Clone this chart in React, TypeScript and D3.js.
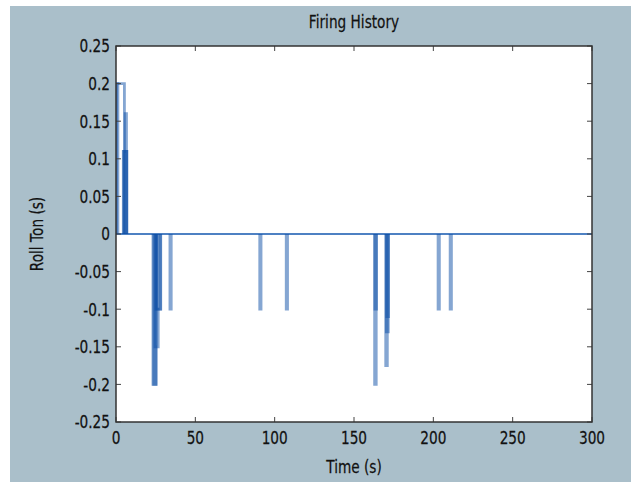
import React from "react";
import * as d3 from "d3";

// Pulses: start time, end time (s), Ton value (s)
const pulseStart = [0.3, 0.3, 5.8, 4.6, 4.9, 23.3, 23.8, 24.6, 25.2, 26.0, 34.0, 90.6, 107.3, 163.0, 163.2, 170.0, 170.4, 170.7, 203.0, 210.6];
const pulseEnd = [5.3, 1.2, 6.6, 6.8, 6.8, 25.0, 25.4, 26.6, 28.0, 28.2, 34.8, 91.4, 108.1, 164.0, 164.2, 171.0, 171.6, 171.8, 203.8, 211.4];
const pulseValue = [0.2, 0.2, 0.16, 0.11, 0.11, -0.2, -0.2, -0.15, -0.1, -0.1, -0.1, -0.1, -0.1, -0.2, -0.1, -0.175, -0.13, -0.11, -0.1, -0.1];

const xTicks = [0, 50, 100, 150, 200, 250, 300];
const yTicks = [0.25, 0.2, 0.15, 0.1, 0.05, 0, -0.05, -0.1, -0.15, -0.2, -0.25];
const yTickLabels = ["0.25", "0.2", "0.15", "0.1", "0.05", "0", "-0.05", "-0.1", "-0.15", "-0.2", "-0.25"];

const W = 631;
const H = 482;
const left = 116, right = 592, top = 46, bottom = 422;
const FONT = "'DejaVu Sans', sans-serif";
const SX = 0.76;

function T(props: { x: number; y: number; anchor: string; rotate?: boolean; children: React.ReactNode; dy?: string }) {
  const tr = `translate(${props.x},${props.y})${props.rotate ? " rotate(-90)" : ""} scale(${SX},1)`;
  return (
    <text transform={tr} textAnchor={props.anchor} dy={props.dy} fontFamily={FONT} fontSize={18} fill="#111" stroke="#111" strokeWidth={0.25}>
      {props.children}
    </text>
  );
}

export default function App() {
  const x = d3.scaleLinear().domain([0, 300]).range([left, right]);
  const y = d3.scaleLinear().domain([-0.25, 0.25]).range([bottom, top]);
  const line = d3.line<[number, number]>().x((d) => x(d[0])).y((d) => y(d[1]));

  const pulses = pulseStart.map((t0, i) => {
    const t1 = pulseEnd[i];
    const v = pulseValue[i];
    return line([[t0, 0], [t0, v], [t1, v], [t1, 0]]) as string;
  });
  const zero = line([[0, 0], [300, 0]]) as string;
  const tickLen = 5;

  return (
    <div style={{ position: "absolute", left: 0, top: 0 }}>
      <svg width={W} height={H} style={{ display: "block" }}>
        <rect x={0} y={0} width={W} height={H} fill="#ffffff" />
        <rect x={10} y={6} width={W - 10} height={H - 6} fill="#aabfca" />
        <rect x={left} y={top} width={right - left} height={bottom - top} fill="#ffffff" />
        <defs>
          <clipPath id="clip">
            <rect x={left} y={top} width={right - left} height={bottom - top} />
          </clipPath>
        </defs>
        <g clipPath="url(#clip)">
          <path d={zero} stroke="#2f6bb8" strokeWidth={2} strokeOpacity={0.85} fill="none" />
          {pulses.map((d, i) => (
            <path key={i} d={d} stroke="#0b4ea6" strokeWidth={2.8} strokeOpacity={0.5} fill="none" />
          ))}
        </g>
        {xTicks.map((t, i) => (
          <g key={"xt" + i}>
            <line x1={x(t)} x2={x(t)} y1={bottom} y2={bottom - tickLen} stroke="#444" strokeWidth={1} />
            <line x1={x(t)} x2={x(t)} y1={top} y2={top + tickLen} stroke="#444" strokeWidth={1} />
            <T x={x(t)} y={bottom + 22} anchor="middle">{String(t)}</T>
          </g>
        ))}
        {yTicks.map((t, i) => (
          <g key={"yt" + i}>
            <line x1={left} x2={left + tickLen} y1={y(t)} y2={y(t)} stroke="#444" strokeWidth={1} />
            <line x1={right} x2={right - tickLen} y1={y(t)} y2={y(t)} stroke="#444" strokeWidth={1} />
            <T x={left - 6} y={y(t)} dy="0.35em" anchor="end">{yTickLabels[i]}</T>
          </g>
        ))}
        <rect x={left} y={top} width={right - left} height={bottom - top} fill="none" stroke="#333" strokeWidth={1.5} />
        <T x={(left + right) / 2} y={28} anchor="middle">Firing History</T>
        <T x={(left + right) / 2} y={473} anchor="middle">Time (s)</T>
        <T x={43} y={(top + bottom) / 2} anchor="middle" rotate>Roll Ton (s)</T>
      </svg>
    </div>
  );
}
